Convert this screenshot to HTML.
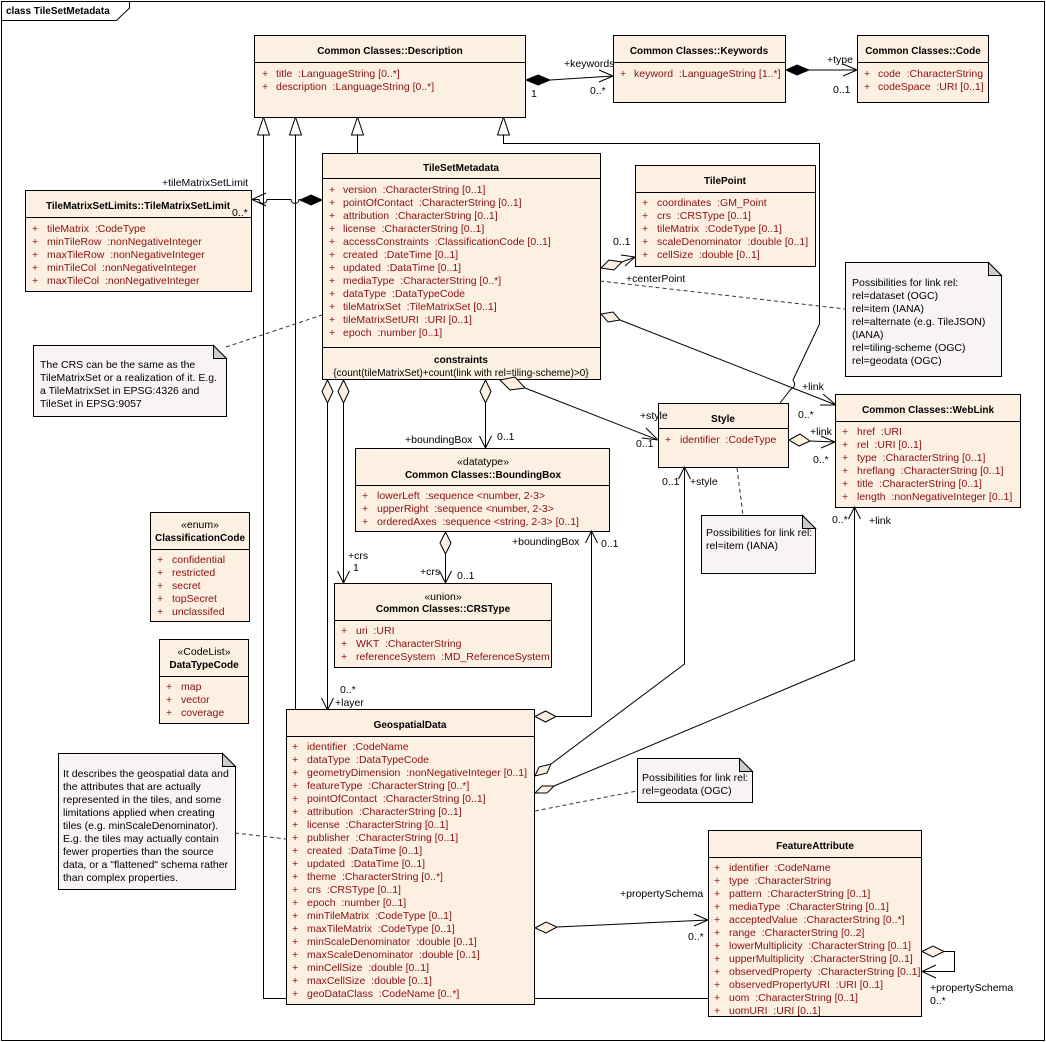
<!DOCTYPE html>
<html><head><meta charset="utf-8"><style>
html,body{margin:0;padding:0;background:#fff;}
svg{display:block;font-family:"Liberation Sans",Arial,sans-serif;font-size:10.5px;}
svg text{white-space:pre;}
.c{fill:#FBF0E2;stroke:#000;stroke-width:1;}
.n{fill:#F7F3F7;stroke:#000;stroke-width:1;}
.a{fill:#8B1010;}
.h{font-weight:bold;text-anchor:middle;font-size:10px;}
.m{text-anchor:middle;}
.ln{fill:none;stroke:#000;stroke-width:1;}
.d{fill:none;stroke:#333;stroke-width:1;stroke-dasharray:4,3;}
.hd{fill:#FBF0E2;stroke:#000;}
.fd{fill:#000;stroke:#000;}
.gt{fill:#fff;stroke:#000;}
</style></head><body>
<svg width="1046" height="1042" viewBox="0 0 1046 1042" xmlns="http://www.w3.org/2000/svg" xml:space="preserve">
<rect x="1.5" y="1.5" width="1043" height="1039" fill="#fff" stroke="#000"/>
<path d="M1.5 20.5 H116.5 L129.5 8 V1.5" class="ln"/>
<text x="6" y="14" font-weight="bold" font-size="10px">class TileSetMetadata</text>

<path d="M263.5 135 V998.5 H708" class="ln"/>
<path d="M295.5 135 V710" class="ln"/>
<path d="M357.5 135 V153" class="ln"/>
<path d="M503.5 135 V143.5 H819.5 V324 L793 380 q4 6 -2 9 L780 403" class="ln"/>
<polygon points="263.5,117 257.5,135 269.5,135" class="gt"/>
<polygon points="295.5,117 289.5,135 301.5,135" class="gt"/>
<polygon points="357.5,117 351.5,135 363.5,135" class="gt"/>
<polygon points="503.5,117 497.5,135 509.5,135" class="gt"/>

<rect x="254.5" y="35.5" width="271" height="82" class="c"/>
<line x1="254.5" y1="62.5" x2="525.5" y2="62.5" stroke="#000"/>
<text x="390" y="54" class="h">Common Classes::Description</text>
<text x="262" y="77" class="a">+</text><text x="276" y="77" class="a">title  :LanguageString [0..*]</text>
<text x="262" y="90" class="a">+</text><text x="276" y="90" class="a">description  :LanguageString [0..*]</text>

<rect x="613.5" y="35.5" width="172" height="67" class="c"/>
<line x1="613.5" y1="62.5" x2="785.5" y2="62.5" stroke="#000"/>
<text x="699" y="54" class="h">Common Classes::Keywords</text>
<text x="620" y="77" class="a">+</text><text x="634" y="77" class="a">keyword  :LanguageString [1..*]</text>

<rect x="857.5" y="35.5" width="131" height="67" class="c"/>
<line x1="857.5" y1="62.5" x2="988.5" y2="62.5" stroke="#000"/>
<text x="923" y="54" class="h">Common Classes::Code</text>
<text x="864" y="77" class="a">+</text><text x="878" y="77" class="a">code  :CharacterString</text>
<text x="864" y="90" class="a">+</text><text x="878" y="90" class="a">codeSpace  :URI [0..1]</text>

<path d="M550 80 L613 76" class="ln"/>
<polygon points="526,80 538,75 550,80 538,85" class="fd"/>
<path d="M599 70 L613 76 L599 82" class="ln"/>
<text x="564" y="67">+keywords</text><text x="531" y="97">1</text><text x="590" y="94">0..*</text>
<path d="M809 70 L857 70" class="ln"/>
<polygon points="786,70 797,65 809,70 797,75" class="fd"/>
<path d="M843 64 L857 70 L843 76" class="ln"/>
<text x="827" y="63">+type</text><text x="833" y="93">0..1</text>

<rect x="322.5" y="153.5" width="278" height="226" class="c"/>
<line x1="322.5" y1="178.5" x2="600.5" y2="178.5" stroke="#000"/>
<line x1="322.5" y1="347.5" x2="600.5" y2="347.5" stroke="#000"/>
<text x="461" y="171" class="h">TileSetMetadata</text>
<g class="a">
<text x="329" y="193">+</text><text x="343" y="193">version  :CharacterString [0..1]</text>
<text x="329" y="206">+</text><text x="343" y="206">pointOfContact  :CharacterString [0..1]</text>
<text x="329" y="219">+</text><text x="343" y="219">attribution  :CharacterString [0..1]</text>
<text x="329" y="232">+</text><text x="343" y="232">license  :CharacterString [0..1]</text>
<text x="329" y="245">+</text><text x="343" y="245">accessConstraints  :ClassificationCode [0..1]</text>
<text x="329" y="258">+</text><text x="343" y="258">created  :DateTime [0..1]</text>
<text x="329" y="271">+</text><text x="343" y="271">updated  :DataTime [0..1]</text>
<text x="329" y="284">+</text><text x="343" y="284">mediaType  :CharacterString [0..*]</text>
<text x="329" y="297">+</text><text x="343" y="297">dataType  :DataTypeCode</text>
<text x="329" y="310">+</text><text x="343" y="310">tileMatrixSet  :TileMatrixSet [0..1]</text>
<text x="329" y="323">+</text><text x="343" y="323">tileMatrixSetURI  :URI [0..1]</text>
<text x="329" y="336">+</text><text x="343" y="336">epoch  :number [0..1]</text>
</g>
<text x="461" y="363" class="h">constraints</text>
<text x="461" y="376" class="m" font-size="10px">{count(tileMatrixSet)+count(link with rel=tiling-scheme)&gt;0}</text>

<rect x="25.5" y="190.5" width="226" height="101" class="c"/>
<line x1="25.5" y1="217.5" x2="251.5" y2="217.5" stroke="#000"/>
<text x="138" y="209" class="h">TileMatrixSetLimits::TileMatrixSetLimit</text>
<g class="a">
<text x="32" y="232">+</text><text x="47" y="232">tileMatrix  :CodeType</text>
<text x="32" y="245">+</text><text x="47" y="245">minTileRow  :nonNegativeInteger</text>
<text x="32" y="258">+</text><text x="47" y="258">maxTileRow  :nonNegativeInteger</text>
<text x="32" y="271">+</text><text x="47" y="271">minTileCol  :nonNegativeInteger</text>
<text x="32" y="284">+</text><text x="47" y="284">maxTileCol  :nonNegativeInteger</text>
</g>
<path d="M300 199.5 H299 a4 4 0 0 1 -8 0 H267 a4 4 0 0 1 -8 0 H252" class="ln"/>
<polygon points="322,200 311,195 300,200 311,205" class="fd"/>
<path d="M266 193 L252 199.5 L266 206" class="ln"/>
<text x="162" y="186">+tileMatrixSetLimit</text><text x="232" y="216">0..*</text>

<rect x="635.5" y="165.5" width="180" height="101" class="c"/>
<line x1="635.5" y1="192.5" x2="815.5" y2="192.5" stroke="#000"/>
<text x="725" y="184" class="h">TilePoint</text>
<g class="a">
<text x="642" y="206">+</text><text x="657" y="206">coordinates  :GM_Point</text>
<text x="642" y="219">+</text><text x="657" y="219">crs  :CRSType [0..1]</text>
<text x="642" y="232">+</text><text x="657" y="232">tileMatrix  :CodeType [0..1]</text>
<text x="642" y="245">+</text><text x="657" y="245">scaleDenominator  :double [0..1]</text>
<text x="642" y="258">+</text><text x="657" y="258">cellSize  :double [0..1]</text>
</g>
<path d="M622 262 L635 257" class="ln"/>
<polygon points="601,268 609,260 622,262 614,270" class="hd"/>
<path d="M621 255 L635 257 L625 266" class="ln"/>
<text x="613" y="245">0..1</text><text x="626" y="282">+centerPoint</text>

<path d="M845.5 262.5 H988.5 L1001.5 275.5 V376.5 H845.5 Z" class="n"/>
<path d="M988.5 262.5 V275.5 H1001.5 Z" fill="#ccc" stroke="#000"/>
<g><text x="852" y="286">Possibilities for link rel:</text>
<text x="852" y="299">rel=dataset (OGC)</text>
<text x="852" y="312">rel=item (IANA)</text>
<text x="852" y="325">rel=alternate (e.g. TileJSON)</text>
<text x="852" y="338">(IANA)</text>
<text x="852" y="351">rel=tiling-scheme (OGC)</text>
<text x="852" y="364">rel=geodata (OGC)</text></g>
<path d="M600 281 L845 309" class="d"/>

<path d="M620 320 L836 405" class="ln"/>
<polygon points="601,314 613,312 620,320 608,322" class="hd"/>
<path d="M823 394 L836 405 L820 405" class="ln"/>
<text x="802" y="390">+link</text><text x="798" y="418">0..*</text>

<path d="M33.5 345.5 H213.5 L226.5 358.5 V416.5 H33.5 Z" class="n"/>
<path d="M213.5 345.5 V358.5 H226.5 Z" fill="#ccc" stroke="#000"/>
<text x="40" y="368">The CRS can be the same as the</text>
<text x="40" y="381">TileMatrixSet or a realization of it. E.g.</text>
<text x="40" y="394">a TileMatrixSet in EPSG:4326 and</text>
<text x="40" y="407">TileSet in EPSG:9057</text>
<path d="M226 347 L322 315" class="d"/>

<rect x="658.5" y="403.5" width="130" height="64" class="c"/>
<line x1="658.5" y1="428.5" x2="788.5" y2="428.5" stroke="#000"/>
<text x="723" y="422" class="h">Style</text>
<text x="665" y="443" class="a">+</text><text x="680" y="443" class="a">identifier  :CodeType</text>

<rect x="835.5" y="394.5" width="185" height="113" class="c"/>
<line x1="835.5" y1="421.5" x2="1020.5" y2="421.5" stroke="#000"/>
<text x="928" y="413" class="h">Common Classes::WebLink</text>
<g class="a">
<text x="842" y="435">+</text><text x="857" y="435">href  :URI</text>
<text x="842" y="448">+</text><text x="857" y="448">rel  :URI [0..1]</text>
<text x="842" y="461">+</text><text x="857" y="461">type  :CharacterString [0..1]</text>
<text x="842" y="474">+</text><text x="857" y="474">hreflang  :CharacterString [0..1]</text>
<text x="842" y="487">+</text><text x="857" y="487">title  :CharacterString [0..1]</text>
<text x="842" y="500">+</text><text x="857" y="500">length  :nonNegativeInteger [0..1]</text>
</g>
<path d="M810 441 L835 442" class="ln"/>
<polygon points="789,440 800,434 810,441 799,446" class="hd"/>
<path d="M821 436 L835 442 L821 448" class="ln"/>
<text x="810" y="435">+link</text><text x="813" y="463">0..*</text>

<path d="M525 388 L658 440" class="ln"/>
<polygon points="500,380 515,377 525,388 510,390" class="hd"/>
<path d="M646 428 L658 440 L642 438" class="ln"/>
<text x="640" y="419">+style</text><text x="636" y="447">0..1</text>

<path d="M701.5 515.5 H802.5 L815.5 528.5 V573.5 H701.5 Z" class="n"/>
<path d="M802.5 515.5 V528.5 H815.5 Z" fill="#ccc" stroke="#000"/>
<text x="706" y="536">Possibilities for link rel:</text>
<text x="706" y="549">rel=item (IANA)</text>
<path d="M737 468 L743 515" class="d"/>

<rect x="355.5" y="448.5" width="254" height="83" class="c"/>
<line x1="355.5" y1="485.5" x2="609.5" y2="485.5" stroke="#000"/>
<text x="483" y="465" class="m">«datatype»</text>
<text x="483" y="478" class="h">Common Classes::BoundingBox</text>
<g class="a">
<text x="362" y="499">+</text><text x="377" y="499">lowerLeft  :sequence &lt;number, 2-3&gt;</text>
<text x="362" y="512">+</text><text x="377" y="512">upperRight  :sequence &lt;number, 2-3&gt;</text>
<text x="362" y="525">+</text><text x="377" y="525">orderedAxes  :sequence &lt;string, 2-3&gt; [0..1]</text>
</g>
<path d="M485.5 403 V448" class="ln"/>
<polygon points="485.5,380 480,391.5 485.5,403 491,391.5" class="hd"/>
<path d="M479.5 436 L485.5 448 L491.5 436" class="ln"/>
<text x="405" y="443">+boundingBox</text><text x="497" y="440">0..1</text>

<rect x="334.5" y="583.5" width="217" height="84" class="c"/>
<line x1="334.5" y1="620.5" x2="551.5" y2="620.5" stroke="#000"/>
<text x="443" y="600" class="m">«union»</text>
<text x="443" y="612" class="h">Common Classes::CRSType</text>
<g class="a">
<text x="341" y="634">+</text><text x="356" y="634">uri  :URI</text>
<text x="341" y="647">+</text><text x="356" y="647">WKT  :CharacterString</text>
<text x="341" y="660">+</text><text x="356" y="660">referenceSystem  :MD_ReferenceSystem</text>
</g>
<path d="M445.5 554 V583" class="ln"/>
<polygon points="445.5,532 440,543 445.5,554 451,543" class="hd"/>
<path d="M439.5 571 L445.5 583 L451.5 571" class="ln"/>
<text x="420" y="575">+crs</text><text x="457" y="579">0..1</text>
<path d="M343.5 403 V583" class="ln"/>
<polygon points="343.5,380 338,391.5 343.5,403 349,391.5" class="hd"/>
<path d="M337.5 571 L343.5 583 L349.5 571" class="ln"/>
<text x="348" y="559">+crs</text><text x="353" y="571">1</text>
<path d="M327.5 403 V710" class="ln"/>
<polygon points="327.5,380 322,391.5 327.5,403 333,391.5" class="hd"/>
<path d="M321.5 698 L327.5 710 L333.5 698" class="ln"/>
<text x="340" y="693">0..*</text><text x="335" y="706">+layer</text>

<rect x="150.5" y="512.5" width="99" height="109" class="c"/>
<line x1="150.5" y1="549.5" x2="249.5" y2="549.5" stroke="#000"/>
<text x="200" y="528" class="m">«enum»</text>
<text x="200" y="541" class="h">ClassificationCode</text>
<g class="a">
<text x="157" y="563">+</text><text x="172" y="563">confidential</text>
<text x="157" y="576">+</text><text x="172" y="576">restricted</text>
<text x="157" y="589">+</text><text x="172" y="589">secret</text>
<text x="157" y="602">+</text><text x="172" y="602">topSecret</text>
<text x="157" y="615">+</text><text x="172" y="615">unclassifed</text>
</g>

<rect x="159.5" y="639.5" width="89" height="84" class="c"/>
<line x1="159.5" y1="676.5" x2="248.5" y2="676.5" stroke="#000"/>
<text x="204" y="655" class="m">«CodeList»</text>
<text x="204" y="668" class="h">DataTypeCode</text>
<g class="a">
<text x="166" y="690">+</text><text x="181" y="690">map</text>
<text x="166" y="703">+</text><text x="181" y="703">vector</text>
<text x="166" y="716">+</text><text x="181" y="716">coverage</text>
</g>

<rect x="286.5" y="709.5" width="248" height="295" class="c"/>
<line x1="286.5" y1="736.5" x2="534.5" y2="736.5" stroke="#000"/>
<text x="410" y="728" class="h">GeospatialData</text>
<g class="a">
<text x="292" y="750">+</text><text x="307" y="750">identifier  :CodeName</text>
<text x="292" y="763">+</text><text x="307" y="763">dataType  :DataTypeCode</text>
<text x="292" y="776">+</text><text x="307" y="776">geometryDimension  :nonNegativeInteger [0..1]</text>
<text x="292" y="789">+</text><text x="307" y="789">featureType  :CharacterString [0..*]</text>
<text x="292" y="802">+</text><text x="307" y="802">pointOfContact  :CharacterString [0..1]</text>
<text x="292" y="815">+</text><text x="307" y="815">attribution  :CharacterString [0..1]</text>
<text x="292" y="828">+</text><text x="307" y="828">license  :CharacterString [0..1]</text>
<text x="292" y="841">+</text><text x="307" y="841">publisher  :CharacterString [0..1]</text>
<text x="292" y="854">+</text><text x="307" y="854">created  :DataTime [0..1]</text>
<text x="292" y="867">+</text><text x="307" y="867">updated  :DataTime [0..1]</text>
<text x="292" y="880">+</text><text x="307" y="880">theme  :CharacterString [0..*]</text>
<text x="292" y="893">+</text><text x="307" y="893">crs  :CRSType [0..1]</text>
<text x="292" y="906">+</text><text x="307" y="906">epoch  :number [0..1]</text>
<text x="292" y="919">+</text><text x="307" y="919">minTileMatrix  :CodeType [0..1]</text>
<text x="292" y="932">+</text><text x="307" y="932">maxTileMatrix  :CodeType [0..1]</text>
<text x="292" y="945">+</text><text x="307" y="945">minScaleDenominator  :double [0..1]</text>
<text x="292" y="958">+</text><text x="307" y="958">maxScaleDenominator  :double [0..1]</text>
<text x="292" y="971">+</text><text x="307" y="971">minCellSize  :double [0..1]</text>
<text x="292" y="984">+</text><text x="307" y="984">maxCellSize  :double [0..1]</text>
<text x="292" y="997">+</text><text x="307" y="997">geoDataClass  :CodeName [0..*]</text>
</g>

<path d="M556 716.5 H591.5 V531" class="ln"/>
<polygon points="535,716.5 545.5,711 556,716.5 545.5,722" class="hd"/>
<path d="M585.5 543 L591.5 531 L597.5 543" class="ln"/>
<text x="512" y="545">+boundingBox</text><text x="601" y="547">0..1</text>
<path d="M551 764 L684.5 664 V467" class="ln"/>
<polygon points="535,776 539,767 551,764 547,773" class="hd"/>
<path d="M678.5 479 L684.5 467 L690.5 479" class="ln"/>
<text x="662" y="485">0..1</text><text x="690" y="485">+style</text>
<path d="M554 786 L854.5 660 V507" class="ln"/>
<polygon points="535,793 542,786 554,786 547,793" class="hd"/>
<path d="M848.5 519 L854.5 507 L860.5 519" class="ln"/>
<text x="832" y="523">0..*</text><text x="869" y="524">+link</text>

<path d="M637.5 758.5 H739.5 L752.5 771.5 V802.5 H637.5 Z" class="n"/>
<path d="M739.5 758.5 V771.5 H752.5 Z" fill="#ccc" stroke="#000"/>
<text x="642" y="781">Possibilities for link rel:</text>
<text x="642" y="794">rel=geodata (OGC)</text>
<path d="M535 811 L637 791" class="d"/>

<path d="M58.5 753.5 H222.5 L235.5 766.5 V889.5 H58.5 Z" class="n"/>
<path d="M222.5 753.5 V766.5 H235.5 Z" fill="#ccc" stroke="#000"/>
<g>
<text x="63" y="777">It describes the geospatial data and</text>
<text x="63" y="790">the attributes that are actually</text>
<text x="63" y="803">represented in the tiles, and some</text>
<text x="63" y="816">limitations applied when creating</text>
<text x="63" y="829">tiles (e.g. minScaleDenominator).</text>
<text x="63" y="842">E.g. the tiles may actually contain</text>
<text x="63" y="855">fewer properties than the source</text>
<text x="63" y="868">data, or a "flattened" schema rather</text>
<text x="63" y="881">than complex properties.</text>
</g>
<path d="M235 833 L286 839" class="d"/>

<rect x="708.5" y="830.5" width="213" height="186" class="c"/>
<line x1="708.5" y1="857.5" x2="921.5" y2="857.5" stroke="#000"/>
<text x="815" y="849" class="h">FeatureAttribute</text>
<g class="a">
<text x="714" y="871">+</text><text x="729" y="871">identifier  :CodeName</text>
<text x="714" y="884">+</text><text x="729" y="884">type  :CharacterString</text>
<text x="714" y="897">+</text><text x="729" y="897">pattern  :CharacterString [0..1]</text>
<text x="714" y="910">+</text><text x="729" y="910">mediaType  :CharacterString [0..1]</text>
<text x="714" y="923">+</text><text x="729" y="923">acceptedValue  :CharacterString [0..*]</text>
<text x="714" y="936">+</text><text x="729" y="936">range  :CharacterString [0..2]</text>
<text x="714" y="949">+</text><text x="729" y="949">lowerMultiplicity  :CharacterString [0..1]</text>
<text x="714" y="962">+</text><text x="729" y="962">upperMultiplicity  :CharacterString [0..1]</text>
<text x="714" y="975">+</text><text x="729" y="975">observedProperty  :CharacterString [0..1]</text>
<text x="714" y="988">+</text><text x="729" y="988">observedPropertyURI  :URI [0..1]</text>
<text x="714" y="1001">+</text><text x="729" y="1001">uom  :CharacterString [0..1]</text>
<text x="714" y="1014">+</text><text x="729" y="1014">uomURI  :URI [0..1]</text>
</g>
<path d="M557 927 L708 920" class="ln"/>
<polygon points="535,928 546,922 557,927 546,933" class="hd"/>
<path d="M694 914 L708 920 L694 926" class="ln"/>
<text x="620" y="897">+propertySchema</text><text x="688" y="940">0..*</text>
<path d="M944 951.5 H954.5 V971.5 H922" class="ln"/>
<polygon points="922,951.5 933,946 944,951.5 933,957" class="hd"/>
<path d="M936 965 L922 971.5 L936 978" class="ln"/>
<text x="930" y="991">+propertySchema</text><text x="930" y="1004">0..*</text>
</svg>
</body></html>
